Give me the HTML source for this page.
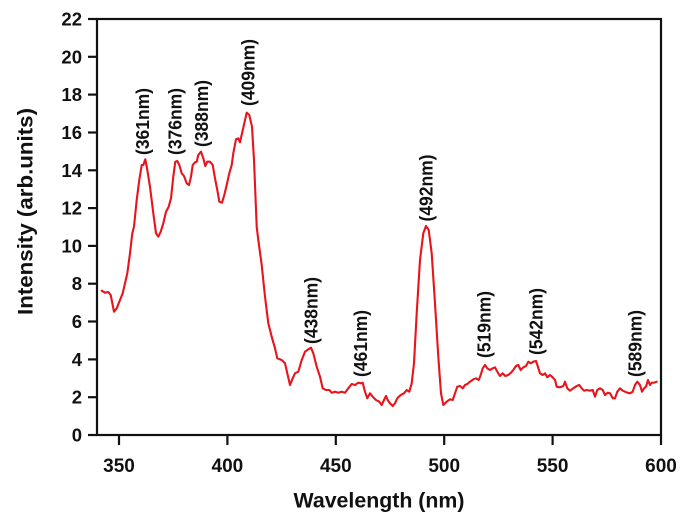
<!DOCTYPE html>
<html><head><meta charset="utf-8"><style>
html,body{margin:0;padding:0;background:#fff;}
svg{display:block;}
text{font-family:"Liberation Sans",Arial,sans-serif;font-weight:bold;fill:#111;}
</style></head><body>
<svg width="690" height="519" viewBox="0 0 690 519" xmlns="http://www.w3.org/2000/svg">
<rect x="0" y="0" width="690" height="519" fill="#fff"/>
<!-- frame -->
<rect x="97" y="19" width="564" height="416" fill="none" stroke="#111" stroke-width="2.2"/>
<!-- ticks -->
<g stroke="#111" stroke-width="2.2">
<line x1="88" y1="19" x2="97" y2="19"/>
<line x1="88" y1="56.8" x2="97" y2="56.8"/>
<line x1="88" y1="94.6" x2="97" y2="94.6"/>
<line x1="88" y1="132.5" x2="97" y2="132.5"/>
<line x1="88" y1="170.3" x2="97" y2="170.3"/>
<line x1="88" y1="208.1" x2="97" y2="208.1"/>
<line x1="88" y1="245.9" x2="97" y2="245.9"/>
<line x1="88" y1="283.7" x2="97" y2="283.7"/>
<line x1="88" y1="321.5" x2="97" y2="321.5"/>
<line x1="88" y1="359.4" x2="97" y2="359.4"/>
<line x1="88" y1="397.2" x2="97" y2="397.2"/>
<line x1="88" y1="435" x2="97" y2="435"/>
<line x1="119" y1="435" x2="119" y2="445"/>
<line x1="227.4" y1="435" x2="227.4" y2="445"/>
<line x1="335.8" y1="435" x2="335.8" y2="445"/>
<line x1="444.2" y1="435" x2="444.2" y2="445"/>
<line x1="552.6" y1="435" x2="552.6" y2="445"/>
<line x1="661" y1="435" x2="661" y2="445"/>
</g>
<!-- y tick labels -->
<g font-size="18.5" text-anchor="end">
<text x="82" y="25.5">22</text>
<text x="82" y="63.3">20</text>
<text x="82" y="101.1">18</text>
<text x="82" y="139">16</text>
<text x="82" y="176.8">14</text>
<text x="82" y="214.6">12</text>
<text x="82" y="252.4">10</text>
<text x="82" y="290.2">8</text>
<text x="82" y="328">6</text>
<text x="82" y="365.9">4</text>
<text x="82" y="403.7">2</text>
<text x="82" y="441.5">0</text>
</g>
<!-- x tick labels -->
<g font-size="19" text-anchor="middle">
<text x="119" y="472">350</text>
<text x="227.4" y="472">400</text>
<text x="335.8" y="472">450</text>
<text x="444.2" y="472">500</text>
<text x="552.6" y="472">550</text>
<text x="661" y="472">600</text>
</g>
<!-- axis titles -->
<text x="293.5" y="507.5" font-size="21" textLength="171" lengthAdjust="spacingAndGlyphs">Wavelength (nm)</text>
<text transform="translate(32.5,315) rotate(-90)" font-size="21.5" textLength="207" lengthAdjust="spacingAndGlyphs">Intensity (arb.units)</text>
<!-- curve -->
<polyline fill="none" stroke="#e8141c" stroke-width="2.1" stroke-linejoin="round" stroke-linecap="round" points="
101.7,290.7 105,292.7 108.3,292 110.7,295 114,311.7 116.7,308.3 120,300 122.7,293.3 125,283.3 127.3,273.3 130,253.3 132.3,233.3 134,226.7 136.7,200 139.3,180 141.7,165 143.3,165 145.3,159.3 147.3,170 150,186.7 153.3,213.3 156,233.3 158.3,236.7 160.7,231.7 163.3,223.3 166,211.7 168.7,206.7 171,198.3 173.3,176.7 175.3,161.7 177.3,161 179.3,165 181.7,173.3 184,176 186.7,183.3 189,185 191,176.7 192.7,165 195,162.3 196.7,161.7 198.3,155 201,151.7 203.3,158.3 205.3,166 207.3,161.7 210,161.7 212.7,165 215,178.3 217.3,190 219.3,201.7 222,202.7 224.3,195 226.7,185 229.3,173.3 231.7,165 233.3,153.3 236,139.3 238.3,138.3 240,142.3 242,133.3 244.3,123.3 246.7,112.7 249.3,115 252,126.7 254,160 256.7,226.7 258.3,240 261.7,265 265,296.7 268.3,323.3 271.7,336.7 275,348.3 277.3,358.3 281.7,360 285,363.3 287.7,375 290,385 292.7,378.3 295,373.3 298.3,371.7 301.7,360 305,351.7 308.3,349.3 311,347.7 313.3,353.3 316.7,366.7 320,376.7 322.7,388.3 326,390 329.3,390 331.7,392.7 335,391.7 338.3,392.7 341.7,391.7 345,392.7 348.3,388.3 351.7,384 355,385 358.3,382.7 360.7,383.3 362.7,382.7 365,391.7 367.3,398.3 370,393.3 372.7,396.7 376,400 379.3,401.7 381.7,405 384,400 386,396 387.7,400 390,403.3 392.7,406 395,403.3 397.3,398.3 400.7,395 404,393.3 406.7,390 409.3,391.7 411.7,383.3 414,363.3 416.7,313.3 420,260 423.3,233.3 426,226 428.7,230 431.7,253.3 435,303.3 438.3,356.7 441,393.3 443.3,405 446.7,401.7 450,399.3 452.7,400 455,393.3 457.3,386.7 460,386 462.7,388.3 465,385 467.3,384 470,381.7 473.3,379.3 476,378.3 478.7,380 480.7,375 482.7,368.3 485,365 487.3,368.3 490,370 492.7,368.3 495,367.3 497.3,371.7 500,376 502.7,373.3 505.3,376 508.3,375 511,372.7 513.3,370 516,366 518.3,365 520.7,370 523.3,367.3 526,366 528.3,361.7 530.7,363.3 533.3,361.7 536,361 537.7,366 540,373.3 542.7,375 545,373.3 547.3,377.3 550,375 552.7,377.3 555,380 556.7,386.7 560,387.3 563.3,386 565,381.7 567.3,388.3 570,390.7 573.3,388.3 576.7,386 579.3,385 581.7,388.3 584,390.7 586.7,390 590,390.7 592.7,390 595,396.7 597.3,390 600,388.3 602.7,390 605,395 607.7,392.7 610,393.3 612.7,398.3 615,398.3 617.3,391.7 620,388.3 622.7,390.7 625,391.7 627.3,392.7 630,393.3 632.7,391.7 635,385 637.3,381.7 640,385 642,391.7 644,388.3 646,386.7 648,380 650,385 651.7,382.7 654,382.7 656.7,381.7"/>
<!-- peak labels -->
<g font-size="18">
<text transform="translate(149,155) rotate(-90)" textLength="67" lengthAdjust="spacingAndGlyphs">(361nm)</text>
<text transform="translate(181.5,155) rotate(-90)" textLength="67" lengthAdjust="spacingAndGlyphs">(376nm)</text>
<text transform="translate(208,147) rotate(-90)" textLength="67" lengthAdjust="spacingAndGlyphs">(388nm)</text>
<text transform="translate(254.5,106) rotate(-90)" textLength="67" lengthAdjust="spacingAndGlyphs">(409nm)</text>
<text transform="translate(317.5,344) rotate(-90)" textLength="67" lengthAdjust="spacingAndGlyphs">(438nm)</text>
<text transform="translate(367,377) rotate(-90)" textLength="67" lengthAdjust="spacingAndGlyphs">(461nm)</text>
<text transform="translate(432.5,221.5) rotate(-90)" textLength="67" lengthAdjust="spacingAndGlyphs">(492nm)</text>
<text transform="translate(490.5,358) rotate(-90)" textLength="67" lengthAdjust="spacingAndGlyphs">(519nm)</text>
<text transform="translate(542.5,355) rotate(-90)" textLength="67" lengthAdjust="spacingAndGlyphs">(542nm)</text>
<text transform="translate(641.5,377) rotate(-90)" textLength="67" lengthAdjust="spacingAndGlyphs">(589nm)</text>
</g>
</svg>
</body></html>
